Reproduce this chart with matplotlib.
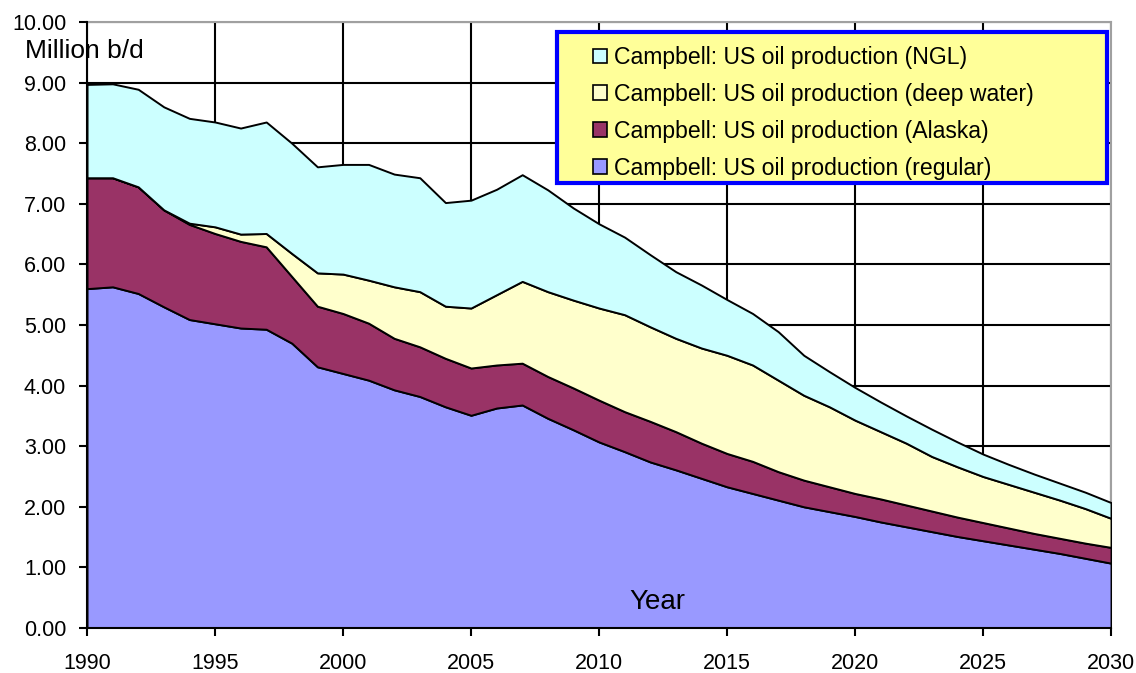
import numpy as np
import matplotlib
matplotlib.use('Agg')
import matplotlib.pyplot as plt
from matplotlib.ticker import FormatStrFormatter
from matplotlib.patches import Rectangle

plt.rcParams['font.family'] = ['Liberation Sans', 'DejaVu Sans']

# values, million barrels per day
years = list(range(1990, 2031))
regular = [5.60, 5.63, 5.52, 5.30, 5.09, 5.02, 4.95, 4.93, 4.70, 4.31,
           4.20, 4.09, 3.93, 3.82, 3.65, 3.51, 3.63, 3.68, 3.46, 3.27,
           3.07, 2.91, 2.74, 2.61, 2.47, 2.33, 2.22, 2.11, 2.00, 1.92,
           1.84, 1.75, 1.67, 1.59, 1.51, 1.44, 1.37, 1.30, 1.23, 1.15, 1.07]
alaska = [1.83, 1.80, 1.76, 1.60, 1.57, 1.49, 1.43, 1.36, 1.10, 1.00,
          0.99, 0.94, 0.85, 0.82, 0.80, 0.78, 0.71, 0.69, 0.69, 0.69,
          0.69, 0.66, 0.67, 0.63, 0.58, 0.55, 0.53, 0.47, 0.44, 0.41,
          0.38, 0.38, 0.36, 0.34, 0.32, 0.30, 0.28, 0.26, 0.25, 0.25, 0.26]
deep_water = [0.00, 0.00, 0.00, 0.00, 0.02, 0.11, 0.12, 0.22, 0.38, 0.55,
              0.65, 0.71, 0.85, 0.91, 0.86, 0.99, 1.16, 1.35, 1.40, 1.45,
              1.52, 1.60, 1.56, 1.54, 1.57, 1.62, 1.59, 1.51, 1.40, 1.32,
              1.21, 1.11, 1.02, 0.90, 0.83, 0.76, 0.72, 0.68, 0.63, 0.57, 0.48]
ngl = [1.54, 1.55, 1.61, 1.70, 1.73, 1.73, 1.75, 1.84, 1.82, 1.75,
       1.81, 1.91, 1.86, 1.88, 1.71, 1.78, 1.74, 1.76, 1.68, 1.52,
       1.39, 1.28, 1.19, 1.10, 1.04, 0.92, 0.85, 0.80, 0.66, 0.58,
       0.54, 0.49, 0.45, 0.45, 0.41, 0.37, 0.33, 0.30, 0.28, 0.27, 0.26]

labels = ['Campbell: US oil production (regular)',
          'Campbell: US oil production (Alaska)',
          'Campbell: US oil production (deep water)',
          'Campbell: US oil production (NGL)']
colors = ['#9999FF', '#993366', '#FFFFCC', '#CCFFFF']

fig = plt.figure(figsize=(11.36, 6.73), dpi=100)
ax = fig.add_axes([0.0766, 0.0669, 0.9014, 0.9004])

'Stacked areas'
polys = ax.stackplot(years, regular, alaska, deep_water, ngl,
                     labels=labels, colors=colors,
                     edgecolor='k', linewidth=1.4, zorder=3)

'Axes and grid'
ax.set_xlim(1990, 2030)
ax.set_ylim(0, 10)
ax.set_xticks(range(1990, 2031, 5))
ax.set_yticks(np.arange(0, 10.01, 1.0))
ax.yaxis.set_major_formatter(FormatStrFormatter('%.2f'))
ax.grid(True, color='k', linewidth=1.5, zorder=0)
ax.set_axisbelow(True)
ax.tick_params(axis='both', direction='out', length=6, width=1.5,
               labelsize=15.5, colors='k')
ax.tick_params(axis='y', pad=9)
ax.tick_params(axis='x', pad=12)
for side in ['left', 'bottom']:
    ax.spines[side].set_linewidth(1.5)
    ax.spines[side].set_color('k')
    ax.spines[side].set_zorder(5)
for side in ['top', 'right']:
    ax.spines[side].set_linewidth(1.5)
    ax.spines[side].set_color('#A0A0A0')

'Labels'
fig.text(25 / 1136, 1 - 51 / 673, 'Million b/d', fontsize=19, va='center', ha='left')
ax.text(0.557, 0.043, 'Year', transform=ax.transAxes, fontsize=20,
        ha='center', va='center', zorder=6)

'Legend box, wider than its entries as in the original'
box = Rectangle((0.459, 0.734), 0.537, 0.2495, transform=ax.transAxes,
                facecolor='#FFFF99', edgecolor='#0000FF', linewidth=3,
                zorder=9, clip_on=False)
ax.add_patch(box)

handles, labs = ax.get_legend_handles_labels()
leg = ax.legend(handles[::-1], labs[::-1], loc='upper left',
                bbox_to_anchor=(0.494, 0.9604), fontsize=16.6,
                frameon=False, handlelength=0.6, handleheight=0.6,
                handletextpad=0.3, labelspacing=0.6,
                borderpad=0, borderaxespad=0)
leg.set_zorder(10)
for h in leg.legend_handles:
    h.set_edgecolor('k')
    h.set_linewidth(1.2)

fig.savefig('out.png', dpi=100)
